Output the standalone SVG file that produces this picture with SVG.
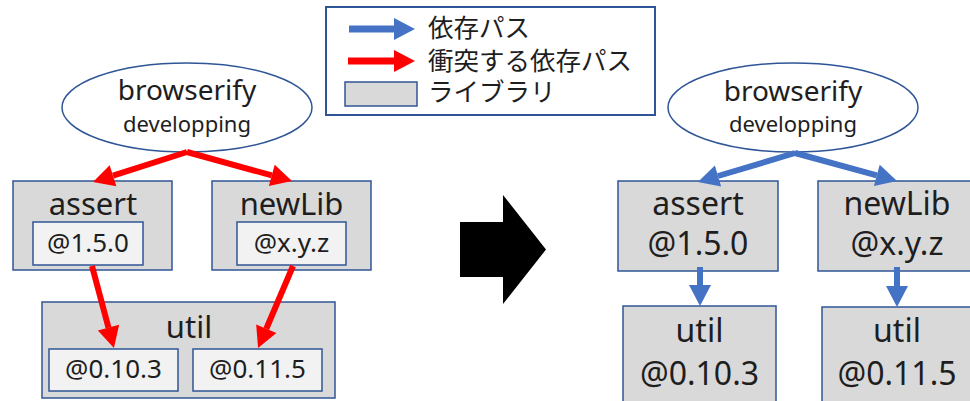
<svg xmlns="http://www.w3.org/2000/svg" width="970" height="401" viewBox="0 0 970 401">
  <style>
    .box { fill: #D9D9D9; stroke: #2F5597; stroke-width: 1.5; }
    .inner { fill: #F2F2F2; stroke: #2F5597; stroke-width: 1.5; }
    .ell { fill: #FFFFFF; stroke: #2F5597; stroke-width: 1.5; }
    .t { font-family: "Noto Sans", "Liberation Sans", sans-serif; fill: #1E1E1E; text-anchor: middle; }
    .jp { font-family: "Noto Sans CJK JP", "Noto Sans", sans-serif; fill: #1E1E1E; font-size: 25.5px; }
    .red { stroke: #FF0000; stroke-width: 6; fill: none; marker-end: url(#headRed); }
    .blue { stroke: #4472C4; stroke-width: 6; fill: none; marker-end: url(#headBlue); }
  </style>
  <defs>
    <marker id="headRed" markerUnits="userSpaceOnUse" markerWidth="21" markerHeight="22" refX="0" refY="11" orient="auto" overflow="visible">
      <path d="M0,0 L21,11 L0,22 Z" fill="#FF0000"/>
    </marker>
    <marker id="headBlue" markerUnits="userSpaceOnUse" markerWidth="21" markerHeight="22" refX="0" refY="11" orient="auto" overflow="visible">
      <path d="M0,0 L21,11 L0,22 Z" fill="#4472C4"/>
    </marker>
  </defs>

  <!-- Legend -->
  <g id="legend">
    <rect x="326" y="7" width="329" height="108" fill="#FFFFFF" stroke="#2F5597" stroke-width="2"/>
    <line x1="349" y1="29" x2="394" y2="29" stroke="#4472C4" stroke-width="7" marker-end="url(#headBlue)"/>
    <text class="jp" x="428" y="37">依存パス</text>
    <line x1="348" y1="61" x2="394" y2="61" stroke="#FF0000" stroke-width="7" marker-end="url(#headRed)"/>
    <text class="jp" x="428" y="70">衝突する依存パス</text>
    <rect x="345" y="82" width="72" height="24" class="box"/>
    <text class="jp" x="428" y="101">ライブラリ</text>
  </g>

  <!-- Left side nodes -->
  <g id="L-browserify">
    <ellipse cx="187" cy="107.5" rx="125" ry="44.5" class="ell"/>
    <text class="t" x="187" y="100" font-size="28">browserify</text>
    <text class="t" x="187" y="132" font-size="22">developping</text>
  </g>
  <g id="L-assert">
    <rect x="13" y="181" width="159" height="89" class="box"/>
    <text class="t" x="93" y="215" font-size="31">assert</text>
    <rect x="33" y="222" width="110" height="43" class="inner"/>
    <text class="t" x="88" y="252" font-size="26">@1.5.0</text>
  </g>
  <g id="L-newLib">
    <rect x="212" y="181" width="159" height="89" class="box"/>
    <text class="t" x="291.5" y="215" font-size="31">newLib</text>
    <rect x="237" y="222" width="109" height="43" class="inner"/>
    <text class="t" x="291.5" y="252" font-size="26">@x.y.z</text>
  </g>
  <g id="L-util">
    <rect x="42" y="302" width="293" height="96" class="box"/>
    <text class="t" x="189" y="338" font-size="31">util</text>
    <rect x="49" y="349" width="129" height="42" class="inner"/>
    <text class="t" x="113.5" y="378" font-size="26">@0.10.3</text>
    <rect x="193" y="349" width="129" height="42" class="inner"/>
    <text class="t" x="257.5" y="378" font-size="26">@0.11.5</text>
  </g>

  <!-- Big transition arrow -->
  <g id="transition">
    <polygon points="460,222 503,222 503,195 546,249.5 503,304 503,277 460,277" fill="#000000"/>
  </g>

  <!-- Right side nodes -->
  <g id="R-browserify">
    <ellipse cx="793" cy="107.5" rx="125" ry="44.5" class="ell"/>
    <text class="t" x="793" y="101" font-size="28">browserify</text>
    <text class="t" x="793" y="132" font-size="22">developping</text>
  </g>
  <g id="R-assert">
    <rect x="618" y="181" width="160" height="90" class="box"/>
    <text class="t" x="698" y="215" font-size="32">assert</text>
    <text class="t" x="698" y="255" font-size="32">@1.5.0</text>
  </g>
  <g id="R-newLib">
    <rect x="818" y="181" width="162" height="90" class="box"/>
    <text class="t" x="897" y="215" font-size="32">newLib</text>
    <text class="t" x="897" y="255" font-size="32">@x.y.z</text>
  </g>
  <g id="R-util1">
    <rect x="623" y="306" width="153" height="100" class="box"/>
    <text class="t" x="699.5" y="342" font-size="32">util</text>
    <text class="t" x="699.5" y="385" font-size="32">@0.10.3</text>
  </g>
  <g id="R-util2">
    <rect x="822" y="307" width="160" height="100" class="box"/>
    <text class="t" x="897" y="342" font-size="32">util</text>
    <text class="t" x="897" y="385" font-size="32">@0.11.5</text>
  </g>

  <!-- Connectors -->
  <g id="connectors">
    <line class="red" x1="187" y1="152" x2="113" y2="175.7"/>
    <line class="red" x1="187" y1="152" x2="271.8" y2="175.4"/>
    <line class="red" x1="92" y1="266" x2="108.5" y2="327.7"/>
    <line class="red" x1="293" y1="266" x2="266.3" y2="328.7"/>
    <line class="blue" x1="795" y1="153" x2="718" y2="176"/>
    <line class="blue" x1="795" y1="153" x2="876.8" y2="175.4"/>
    <line class="blue" x1="700" y1="267" x2="700" y2="285"/>
    <line class="blue" x1="897" y1="267" x2="897" y2="286"/>
  </g>
</svg>
